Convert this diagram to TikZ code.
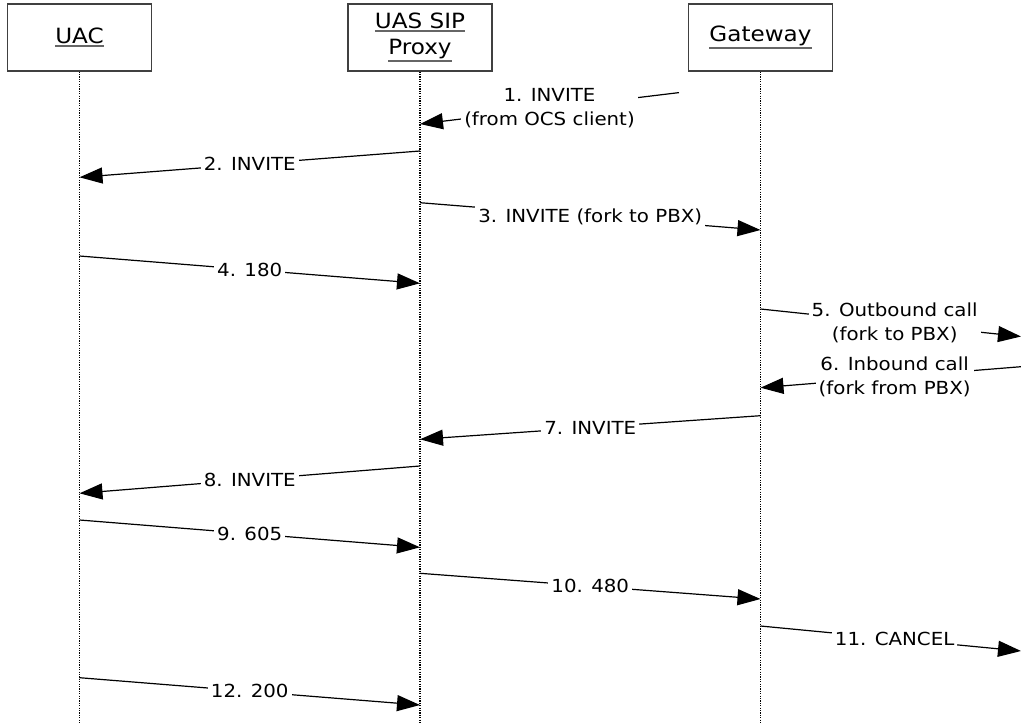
\documentclass[tikz,border=0pt]{standalone}
\usepackage{fontspec}
\setmainfont{DejaVu Sans}[FakeStretch=1.1]
\usetikzlibrary{arrows.meta}
\newcommand{\ttlul}[1]{\setbox0=\hbox{#1}\hbox{\rlap{\copy0}\raisebox{-\dimexpr\dp0+2.5pt\relax}{\color{black!60}\rule{\wd0}{1.6pt}}}}
\begin{document}
\begin{tikzpicture}[x=1pt,y=-1pt,
  actor/.style={draw=black!75, line width=1.3pt, minimum width=144pt, minimum height=67pt, inner sep=0pt, font=\fontsize{21}{26}\selectfont, align=center},
  life/.style={line width=1.2pt, dash pattern=on 1.2pt off 1.2pt, black},
  msg/.style={line width=1.2pt, -{Triangle[length=23pt,width=16pt]}},
  lbl/.style={fill=white, inner sep=3pt, font=\fontsize{18}{24}\selectfont, align=center}]
\useasboundingbox (0,0) rectangle (1021,723);
\def\xa{79.5}\def\xb{420}\def\xc{760.5}
% actors
\node[actor] (uac) at (\xa,37.5) {\ttlul{UAC}};
\node[actor] (uas) at (\xb,37.5) {\ttlul{UAS SIP}\\\ttlul{Proxy}};
\node[actor] (gw) at (\xc,37.5) {\ttlul{Gateway}};
% lifelines
\coordinate (bot) at (0,723);
\draw[life] (uac.south) -- (uac.south |- bot);
\draw[life] (uas.south) -- (uas.south |- bot);
\draw[life] (gw.south) -- (gw.south |- bot);
% message end points
\coordinate (m1s) at (679,92.6);   \coordinate (m1e) at (\xb,124);
\coordinate (m2s) at (\xb,151);    \coordinate (m2e) at (\xa,177.3);
\coordinate (m3s) at (\xb,202.7);  \coordinate (m3e) at (\xc,230);
\coordinate (m4s) at (\xa,256);    \coordinate (m4e) at (\xb,283.3);
\coordinate (m5s) at (\xc,309);    \coordinate (m5e) at (1021,336.5);
\coordinate (m6s) at (1021,366.7); \coordinate (m6e) at (\xc,387.7);
\coordinate (m7s) at (\xc,415.7);  \coordinate (m7e) at (\xb,439.3);
\coordinate (m8s) at (\xb,466);    \coordinate (m8e) at (\xa,493.3);
\coordinate (m9s) at (\xa,520);    \coordinate (m9e) at (\xb,547.3);
\coordinate (m10s) at (\xb,573.3); \coordinate (m10e) at (\xc,599);
\coordinate (m11s) at (\xc,626);   \coordinate (m11e) at (1021,651);
\coordinate (m12s) at (\xa,677.7); \coordinate (m12e) at (\xb,705);
% messages
\draw[msg] (m1s) -- node[lbl] (l1) {1. INVITE\\(from OCS client)} (m1e);
\draw[msg] (m2s) -- node[lbl] (l2) {2. INVITE} (m2e);
\draw[msg] (m3s) -- node[lbl] (l3) {3. INVITE (fork to PBX)} (m3e);
\draw[msg] (m4s) -- node[lbl] (l4) {4. 180} (m4e);
\draw[msg] (m5s) -- node[lbl,pos=0.515] (l5) {5. Outbound call\\(fork to PBX)} (m5e);
\draw[msg] (m6s) -- node[lbl,pos=0.485] (l6) {6. Inbound call\\(fork from PBX)} (m6e);
\draw[msg] (m7s) -- node[lbl] (l7) {7. INVITE} (m7e);
\draw[msg] (m8s) -- node[lbl] (l8) {8. INVITE} (m8e);
\draw[msg] (m9s) -- node[lbl] (l9) {9. 605} (m9e);
\draw[msg] (m10s) -- node[lbl] (l10) {10. 480} (m10e);
\draw[msg] (m11s) -- node[lbl,pos=0.515] (l11) {11. CANCEL} (m11e);
\draw[msg] (m12s) -- node[lbl] (l12) {12. 200} (m12e);
\end{tikzpicture}
\end{document}
